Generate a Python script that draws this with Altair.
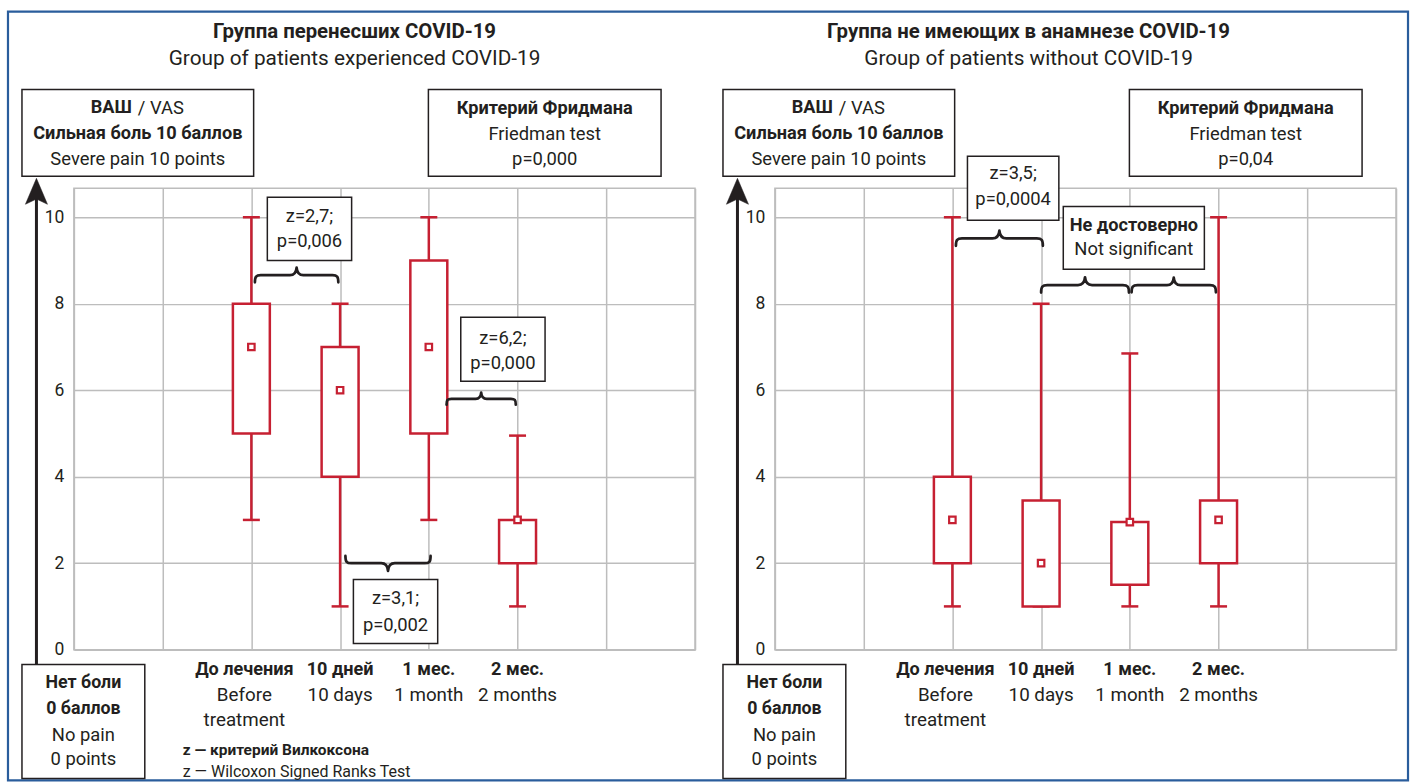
import altair as alt
import pandas as pd

# ---------------------------------------------------------------- data
periods_ru = ["До лечения", "10 дней", "1 мес.", "2 мес."]
periods_en = [["Before", "treatment"], ["10 days"], ["1 month"], ["2 months"]]

# VAS scores, patients after COVID-19
covid_min = [3, 1, 3, 1]
covid_q1 = [5, 4, 5, 2]
covid_median = [7, 6, 7, 3]
covid_q3 = [8, 7, 9, 3]
covid_max = [10, 8, 10, 4.95]

# VAS scores, patients without COVID-19
nocovid_min = [1, 1, 1, 1]
nocovid_q1 = [2, 1, 1.5, 2]
nocovid_median = [3, 2, 2.95, 3]
nocovid_q3 = [4, 3.45, 2.95, 3.45]
nocovid_max = [10, 8, 6.85, 10]

covid_friedman = "p=0,000"
nocovid_friedman = "p=0,04"

# ---------------------------------------------------------------- style
INK = "#231f20"
RED = "#c62032"
GRID = "#bdbdbd"
FRAME = "#2a5d9c"
FONT = "Roboto"

TXT = 18.4        # regular text in boxes
TXT_B = 18.2      # bold text in boxes
NOTE = 18.4       # text of the comparison boxes

W, H = 622, 462          # plot area of each panel
X_MAX = 7
Y_MAX = 10.67
FIRST_SLOT = 2
PX_PER_X = W / X_MAX
BOX_HALF = 18.5 / PX_PER_X
CAP_HALF = 8.5 / PX_PER_X

# curly braces as custom symbols (unit box -1..1, bar on y = 0)
BRACE_UP = ("M-1,0.17 C-1,0.03 -0.97,0 -0.86,0 L-0.16,0 C-0.06,0 -0.01,-0.06 0,-0.18 "
            "C0.01,-0.06 0.06,0 0.16,0 L0.86,0 C0.97,0 1,0.03 1,0.17")
BRACE_DOWN = ("M-1,-0.17 C-1,-0.03 -0.97,0 -0.86,0 L-0.16,0 C-0.06,0 -0.01,0.06 0,0.18 "
              "C0.01,0.06 0.06,0 0.16,0 L0.86,0 C0.97,0 1,-0.03 1,-0.17")
ARROW_HEAD = "M0,-1 L0.85,1 L0,0.6 L-0.85,1 Z"

xs = alt.Scale(domain=[0, X_MAX], nice=False, zero=False)
ys = alt.Scale(domain=[0, Y_MAX], nice=False, zero=False)
x_axis = alt.Axis(values=list(range(X_MAX + 1)), labels=False, ticks=False,
                  domain=False, grid=True, title=None)
y_axis = alt.Axis(values=[0, 2, 4, 6, 8, 10], ticks=False, domain=False, grid=True,
                  title=None, labelPadding=10, labelFontSize=17.5, labelColor=INK,
                  labelFont=FONT)

ONE = pd.DataFrame({"k": [0]})


def X(field):
    return alt.X(field, type="quantitative", scale=xs, axis=x_axis)


def Y(field):
    return alt.Y(field, type="quantitative", scale=ys, axis=y_axis)


def ptext(text, px, py, size, bold=False, align="center"):
    return alt.Chart(ONE).mark_text(
        text=text, fontSize=size, fontWeight="bold" if bold else "normal",
        align=align, baseline="middle", font=FONT, color=INK,
    ).encode(x=alt.value(px), y=alt.value(py))


def prect(x0, x1, y0, y1, stroke=INK, width=1.5, fill_opacity=1):
    return alt.Chart(ONE).mark_rect(
        fill="white", fillOpacity=fill_opacity, stroke=stroke, strokeWidth=width,
    ).encode(x=alt.value(x0), x2=alt.value(x1), y=alt.value(y0), y2=alt.value(y1))


def dtext(text, xc, yc, size=NOTE, bold=False):
    d = pd.DataFrame({"x": [xc], "y": [yc], "t": [text]})
    return alt.Chart(d).mark_text(
        fontSize=size, fontWeight="bold" if bold else "normal", font=FONT,
        color=INK, baseline="middle",
    ).encode(x=X("x"), y=Y("y"), text="t:N")


def note_box(x0, x1, y0, y1, lines):
    d = pd.DataFrame({"x0": [x0], "x1": [x1], "y0": [y0], "y1": [y1]})
    layers = [alt.Chart(d).mark_rect(fill="white", stroke=INK, strokeWidth=1.5)
              .encode(x=X("x0"), x2="x1", y=Y("y0"), y2="y1")]
    xc = (x0 + x1) / 2
    for text, yc, bold in lines:
        layers.append(dtext(text, xc, yc, size=TXT_B if bold else NOTE, bold=bold))
    return layers


def brace(x_from, x_to, level, up=True):
    d = pd.DataFrame({"x": [(x_from + x_to) / 2], "y": [level]})
    width = (x_to - x_from) * PX_PER_X
    return alt.Chart(d).mark_point(
        shape=BRACE_UP if up else BRACE_DOWN, size=width * width, filled=False,
        stroke=INK, strokeWidth=2.7, opacity=1, strokeCap="round", strokeJoin="round",
    ).encode(x=X("x"), y=Y("y"))


def panel(title_ru, title_en, mins, q1, med, q3, maxs, friedman_p, tests, braces,
          title_x, with_frame=False, with_footnote=False):
    slots = [FIRST_SLOT + i for i in range(len(periods_ru))]
    stats = pd.DataFrame({"slot": slots, "lo": mins, "q1": q1, "med": med,
                          "q3": q3, "hi": maxs})
    stats["box_l"] = stats["slot"] - BOX_HALF
    stats["box_r"] = stats["slot"] + BOX_HALF
    stats["cap_l"] = stats["slot"] - CAP_HALF
    stats["cap_r"] = stats["slot"] + CAP_HALF

    layers = []
    if with_frame:
        layers.append(prect(-66, 1336, -177, 593, stroke=FRAME, width=2.2,
                            fill_opacity=0))

    base = alt.Chart(stats)
    layers += [
        base.mark_rule(color=RED, strokeWidth=2.5).encode(x=X("slot"), y=Y("lo"), y2="hi"),
        base.mark_rule(color=RED, strokeWidth=2.5).encode(x=X("cap_l"), x2="cap_r", y=Y("lo")),
        base.mark_rule(color=RED, strokeWidth=2.5).encode(x=X("cap_l"), x2="cap_r", y=Y("hi")),
        base.mark_rect(fill="white", stroke=RED, strokeWidth=2.5)
            .encode(x=X("box_l"), x2="box_r", y=Y("q1"), y2="q3"),
        base.mark_square(size=42, filled=True, fill="white", stroke=RED,
                         strokeWidth=2.2, opacity=1).encode(x=X("slot"), y=Y("med")),
    ]

    # titles
    layers += [ptext(title_ru, title_x, -157, 20.4, bold=True),
               ptext(title_en, title_x, -129, 20.8)]

    # VAS scale box (top)
    layers += [prect(-52, 180, -99, -12),
               ptext("ВАШ", 58, -80, TXT_B, bold=True, align="right"),
               ptext("/ VAS", 64, -80, TXT, align="left"),
               ptext("Сильная боль 10 баллов", 64, -54, TXT_B, bold=True),
               ptext("Severe pain 10 points", 64, -29, TXT)]

    # Friedman box
    layers += [prect(355, 588, -99, -12),
               ptext("Критерий Фридмана", 471.5, -79, TXT_B, bold=True),
               ptext("Friedman test", 471.5, -54, TXT),
               ptext(friedman_p, 471.5, -29, TXT)]

    # arrow of the scale
    layers += [alt.Chart(ONE).mark_rule(color=INK, strokeWidth=3)
               .encode(x=alt.value(-37.5), y=alt.value(5), y2=alt.value(477)),
               alt.Chart(ONE).mark_point(shape=ARROW_HEAD, size=676, filled=True,
                                         fill=INK, stroke=INK, strokeWidth=0.5, opacity=1)
               .encode(x=alt.value(-37.5), y=alt.value(3))]

    # no-pain box (bottom)
    layers += [prect(-52, 71, 477, 591),
               ptext("Нет боли", 9.5, 495, 17.8, bold=True),
               ptext("0 баллов", 9.5, 521, 17.8, bold=True),
               ptext("No pain", 9.5, 547, TXT),
               ptext("0 points", 9.5, 572, TXT)]

    # period labels under the axis
    for i, (ru, en) in enumerate(zip(periods_ru, periods_en)):
        nudge = -7 if i == 0 else 0
        d = pd.DataFrame({"x": [slots[i]]})
        rows = [(ru, True)] + [(e, False) for e in en]
        for j, (text, bold) in enumerate(rows):
            layers.append(alt.Chart(d).mark_text(
                text=text, fontSize=18.1 if bold else 18.8,
                fontWeight="bold" if bold else "normal",
                font=FONT, color=INK, baseline="middle", dx=nudge,
            ).encode(x=X("x"), y=alt.value(482 + 25 * j)))

    # pairwise comparisons
    for b in braces:
        layers.append(brace(*b))
    for t in tests:
        layers += note_box(*t)

    if with_footnote:
        layers += [ptext("z — критерий Вилкоксона", 109, 563, 15.5, bold=True, align="left"),
                   ptext("z — Wilcoxon Signed Ranks Test", 109, 585, 16, align="left")]

    return alt.layer(*layers).properties(width=W, height=H)


covid_tests = [
    (2.18, 3.13, 9.0, 10.46, [("z=2,7;", 10.02, False), ("p=0,006", 9.45, False)]),
    (4.36, 5.31, 6.21, 7.69, [("z=6,2;", 7.2, False), ("p=0,000", 6.63, False)]),
    (3.15, 4.10, 0.14, 1.62, [("z=3,1;", 1.2, False), ("p=0,002", 0.58, False)]),
]
covid_braces = [(2.04, 2.98, 8.66, True), (4.2, 4.98, 5.8, True), (3.06, 4.02, 2.0, False)]

nocovid_tests = [
    (2.17, 3.20, 9.93, 11.41, [("z=3,5;", 11.02, False), ("p=0,0004", 10.42, False)]),
    (3.25, 4.84, 8.8, 10.25, [("Не достоверно", 9.79, True), ("Not significant", 9.26, False)]),
]
nocovid_braces = [(2.04, 3.02, 9.51, True), (3.0, 3.99, 8.43, True), (4.02, 4.97, 8.43, True)]

left = panel("Группа перенесших COVID-19", "Group of patients experienced COVID-19",
             covid_min, covid_q1, covid_median, covid_q3, covid_max, covid_friedman,
             covid_tests, covid_braces, title_x=281, with_frame=True, with_footnote=True)
right = panel("Группа не имеющих в анамнезе COVID-19", "Group of patients without COVID-19",
              nocovid_min, nocovid_q1, nocovid_median, nocovid_q3, nocovid_max,
              nocovid_friedman, nocovid_tests, nocovid_braces, title_x=254)

chart = (
    alt.hconcat(left, right, spacing=80, bounds="flush")
    .properties(padding={"left": 6, "top": 9, "right": 6, "bottom": 2})
    .configure_view(stroke=GRID, strokeWidth=1.5)
    .configure_axis(gridColor=GRID, gridWidth=1.5)
)

chart.save("out.html", embed_options={"renderer": "svg", "actions": False})
